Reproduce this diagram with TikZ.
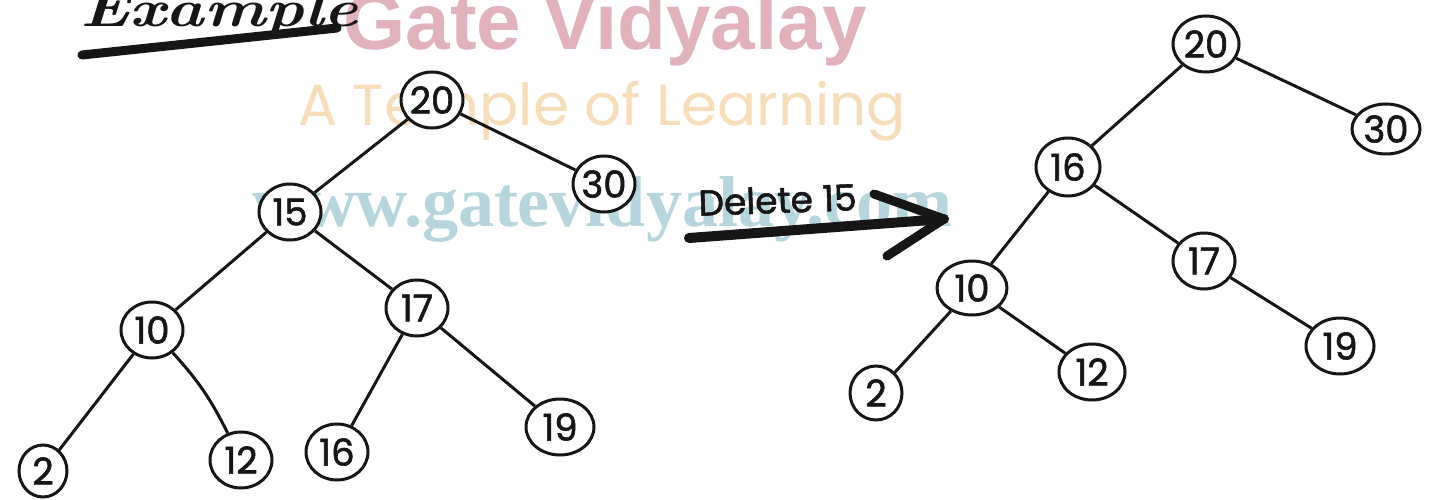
\documentclass[tikz,border=0pt]{standalone}
\usepackage{fontspec}
\newfontfamily\digitfont[FakeBold=1.6]{Poppins}
\newfontfamily\wmfont{Poppins}
\newfontfamily\wmsans{Liberation Sans}
\newfontfamily\wmserif{Liberation Serif}
\usetikzlibrary{shapes.geometric}
\definecolor{wmpink}{RGB}{226,178,188}
\definecolor{wmorange}{RGB}{247,222,185}
\definecolor{wmteal}{RGB}{180,214,220}
\definecolor{ink}{RGB}{22,22,22}
\begin{document}
\begin{tikzpicture}[x=1pt,y=-1pt,
  tnode/.style={ellipse, draw=ink, fill=white, line width=3pt, inner sep=0pt,
    minimum width=62pt, minimum height=56pt, text=ink,
    font=\digitfont\fontsize{37}{37}\selectfont},
  edge/.style={draw=ink, line width=3pt},
  thick stroke/.style={draw=ink, line cap=round, line join=round}]
\useasboundingbox (0,0) rectangle (1432,500);
\fill[white] (0,0) rectangle (1432,500);

% watermark
\node[text=wmpink, font=\wmsans\bfseries\fontsize{80}{80}\selectfont, anchor=base] (wm1) at (605,50) {Gate Vidyalay};
\node[text=wmorange, font=\wmfont\fontsize{58}{58}\selectfont, anchor=base] (wm2) at (602,126) {A Temple of Learning};
\node[text=wmteal, font=\wmserif\bfseries\fontsize{72}{72}\selectfont, anchor=base] (wm3) at (602,226) {www.gatevidyalay.com};

% title
\node[text=ink, font=\bfseries\itshape\fontsize{52}{52}\selectfont, xscale=1.25, anchor=base west, inner sep=0pt] (ex) at (80,27) {Example};
\coordinate (ul1) at (82,55);
\coordinate (ul2) at (337,28);
\draw[thick stroke, line width=9pt] (ul1) -- (ul2);

% left tree
\node[tnode] (a20) at (432,100) {\makebox[0pt]{20}};
\node[tnode] (a30) at (604,184) {\makebox[0pt]{30}};
\node[tnode] (a15) at (290,212) {\makebox[0pt]{15}};
\node[tnode] (a17) at (417,308) {\makebox[0pt]{17}};
\node[tnode] (a10) at (152,330) {\makebox[0pt]{10}};
\node[tnode, minimum width=48pt, minimum height=52pt] (a2) at (43,471) {\makebox[0pt]{2}};
\node[tnode] (a12) at (241,460) {\makebox[0pt]{12}};
\node[tnode] (a16) at (337,452) {\makebox[0pt]{16}};
\node[tnode, minimum width=68pt] (a19) at (560,427) {\makebox[0pt]{19}};
\draw[edge] (a20) -- (a15);
\draw[edge] (a20) -- (a30);
\draw[edge] (a15) -- (a10);
\draw[edge] (a15) -- (a17);
\draw[edge] (a10) -- (a2);
\draw[edge] (a10) to[bend left=8] (a12);
\draw[edge] (a17) -- (a16);
\draw[edge] (a17) -- (a19);

% arrow
\node[text=ink, font=\digitfont\fontsize{36}{36}\selectfont, rotate=2, anchor=base] (lbl) at (778,213) {Delete 15};
\coordinate (as) at (689,238);
\coordinate (ae) at (944,219);
\coordinate (h1) at (874,194);
\coordinate (h2) at (887,256);
\draw[thick stroke, line width=10pt] (as) -- (ae);
\draw[thick stroke, line width=9pt] (h1) -- (ae) -- (h2);

% right tree
\node[tnode, minimum width=66pt] (b20) at (1206,44) {\makebox[0pt]{20}};
\node[tnode, minimum width=68pt, minimum height=50pt] (b30) at (1386,129) {\makebox[0pt]{30}};
\node[tnode, minimum width=64pt, minimum height=58pt] (b16) at (1068,167) {\makebox[0pt]{16}};
\node[tnode] (b17) at (1204,261) {\makebox[0pt]{17}};
\node[tnode, minimum width=70pt, minimum height=54pt] (b10) at (972,288) {\makebox[0pt]{10}};
\node[tnode, minimum width=68pt] (b19) at (1340,346) {\makebox[0pt]{19}};
\node[tnode, minimum width=66pt] (b12) at (1092,372) {\makebox[0pt]{12}};
\node[tnode, minimum width=52pt, minimum height=54pt] (b2) at (876,393) {\makebox[0pt]{2}};
\draw[edge] (b20) -- (b16);
\draw[edge] (b20) -- (b30);
\draw[edge] (b16) -- (b10);
\draw[edge] (b16) -- (b17);
\draw[edge] (b10) -- (b2);
\draw[edge] (b10) -- (b12);
\draw[edge] (b17) -- (b19);
\end{tikzpicture}
\end{document}
